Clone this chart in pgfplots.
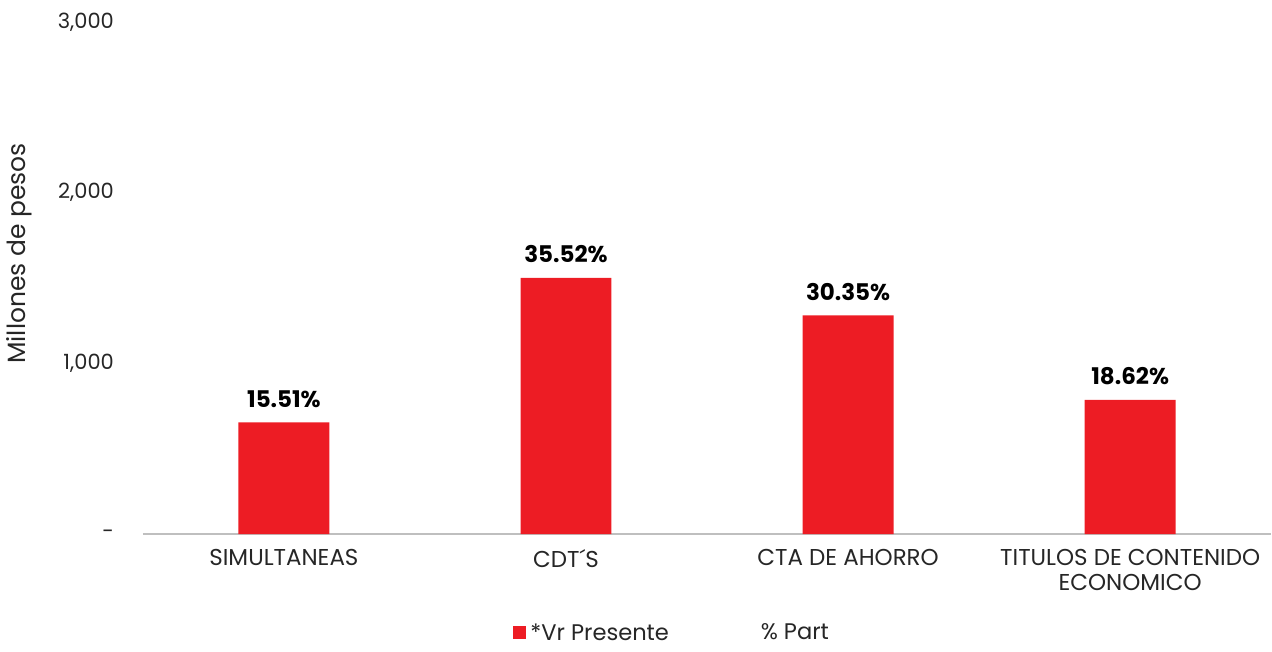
\documentclass[border=0pt]{standalone}
\usepackage{pgfplots}
\pgfplotsset{compat=1.18}
\usepackage{fontspec}
\setmainfont{Poppins}
\definecolor{barred}{HTML}{ED1C24}
\definecolor{txt}{HTML}{262626}
\begin{document}
\begin{tikzpicture}
\begin{axis}[
  scale only axis,
  width=565pt, height=256.5pt,
  xmin=-0.5, xmax=3.5, ymin=0, ymax=3000,
  ybar, bar width=45.5pt,
  axis x line*=bottom,
  axis y line*=left,
  y axis line style={draw=none},
  x axis line style={draw=black!25, line width=0.8pt},
  major tick length=0pt,
  xtick={0,1,2,3},
  xticklabels={SIMULTANEAS, CDT´S, CTA DE AHORRO, {TITULOS DE CONTENIDO\\ECONOMICO}},
  xticklabel style={align=center, font=\fontsize{11.5}{12.5}\selectfont, text=txt, yshift=-4pt},
  ytick={0,1000,2000,3000},
  yticklabels={-,{1,000},{2,000},{3,000}},
  yticklabel style={font=\fontsize{10.5}{12}\selectfont, text=txt, xshift=-11pt},
  /pgf/number format/assume math mode=true,
  ylabel={Millones de pesos},
  ylabel style={at={(ticklabel cs:0.548)}, font=\fontsize{12.5}{13}\selectfont, text=txt, yshift=6pt},
  nodes near coords,
  point meta=explicit symbolic,
  nodes near coords style={font=\bfseries\fontsize{11.5}{12}\selectfont, text=black, yshift=4pt},
  legend style={at={(0.47,-0.158)}, anchor=north, draw=none, legend columns=2,
    font=\fontsize{11.3}{12}\selectfont, text=txt,
    /tikz/every even column/.append style={column sep=42pt}},
  legend image code/.code={\fill[#1] (0pt,-3pt) rectangle (6.5pt,3.5pt);},
  clip=false,
]
\addplot[fill=barred, draw=none] coordinates {
  (0,655) [15.51\%]
  (1,1501) [35.52\%]
  (2,1282) [30.35\%]
  (3,787) [18.62\%]
};
\addlegendentry{*Vr Presente}
\addlegendimage{legend image code/.code={}}
\addlegendentry{\% Part}
\path (rel axis cs:0.5,1) ++(0,11pt) coordinate (topedge);
\path (topedge) -- ++(0,0.01pt);
\end{axis}
\end{tikzpicture}
\end{document}
